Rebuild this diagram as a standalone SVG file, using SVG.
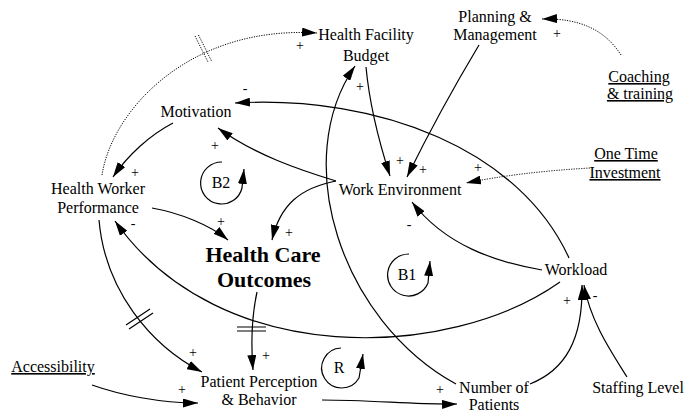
<svg xmlns="http://www.w3.org/2000/svg" width="684" height="419" viewBox="0 0 684 419" font-family="'Liberation Serif', 'Times New Roman', 'DejaVu Serif', serif">
<defs>
<style>
text{font-family:'Liberation Serif','Times New Roman','DejaVu Serif',serif}
.t{font-size:16px;fill:#000;text-anchor:middle}
.b{font-weight:bold;font-size:22px}
.u{text-decoration:underline}
.s{font-size:14px;fill:#000;text-anchor:middle}
.l{fill:none;stroke:#000;stroke-width:1.2}
.d{fill:none;stroke:#000;stroke-width:1;stroke-dasharray:1.2,1.3}
.a{marker-end:url(#ah)}
</style>
<marker id="ah" viewBox="0 0 15 9" refX="15" refY="4.5" markerWidth="15" markerHeight="9" markerUnits="userSpaceOnUse" orient="auto"><path d="M0,0 L15,4.5 L0,9 z" fill="#000"/></marker>
</defs>
<rect width="684" height="419" fill="#fff"/>
<g id="connectors">
<path class="d a" d="M102,175 C112,110 190,25 317,33"/>
<path class="d" d="M195,36 L208,62 M198.5,35 L211.5,61"/>
<path class="l a" d="M479,45 Q440,110 407,177"/>
<path class="l a" d="M366,67 C370,110 380,145 390,176"/>
<path class="d a" d="M621,55 C605,30 580,18 542,19"/>
<path class="d a" d="M590,168 Q520,172 466,183"/>
<path class="l a" d="M569,258 C520,150 380,95 235,103"/>
<path class="l a" d="M336,181 C300,170 255,155 218,128"/>
<path class="l a" d="M336,181 C300,188 280,205 272,240"/>
<path class="l a" d="M173,123 C150,135 128,155 113,177"/>
<path class="l a" d="M152,208 C180,213 210,225 228,240"/>
<path class="l a" d="M560,282 C450,360 220,370 115,221"/>
<path class="l a" d="M542,270 C495,262 445,245 412,202"/>
<path class="l a" d="M456,384 C340,320 290,160 355,66"/>
<path class="l a" d="M530,384 C565,370 583,340 582,285"/>
<path class="l a" d="M627,377 C610,350 590,320 584,285"/>
<path class="l a" d="M322,400 C370,400 420,405 457,404"/>
<path class="l a" d="M92,385 C120,395 160,403 198,403"/>
<path class="l a" d="M99,220 C105,290 150,345 202,372"/>
<path class="l" d="M126,325 L150,309 M129,329 L153,313"/>
<path class="l a" d="M257,292 C252,315 251,345 253,370"/>
<path class="l" d="M237,327 L266,327 M237,331 L266,331"/>
</g>
<g id="signs">
<text class="s" x="300" y="50">+</text>
<text class="s" x="557" y="38">+</text>
<text class="s" x="400" y="165">+</text>
<text class="s" x="423" y="174">+</text>
<text class="s" x="478" y="172">+</text>
<text class="s" x="245" y="93">-</text>
<text class="s" x="215" y="150">+</text>
<text class="s" x="135" y="177">+</text>
<text class="s" x="221" y="226">+</text>
<text class="s" x="289" y="237">+</text>
<text class="s" x="133" y="228">-</text>
<text class="s" x="409" y="229">-</text>
<text class="s" x="360" y="91">+</text>
<text class="s" x="567" y="305">+</text>
<text class="s" x="595" y="300">-</text>
<text class="s" x="440" y="394">+</text>
<text class="s" x="182" y="394">+</text>
<text class="s" x="193" y="357">+</text>
<text class="s" x="266" y="360">+</text>
</g>
<g id="loop-B2">
<path class="l a" d="M222,162 A21,21 0 1,0 242,188 L244,169"/>
<text class="t" x="221" y="188">B2</text>
</g>
<g id="loop-B1">
<path class="l a" d="M409,254 A21,21 0 1,0 428,283 L430,261"/>
<text class="t" x="407" y="280">B1</text>
</g>
<g id="loop-R">
<path class="l a" d="M341,348 A20,20 0 1,0 359,378 L363,354"/>
<text class="t" x="339" y="373">R</text>
</g>
<g id="health-facility-budget"><text class="t" x="366" y="40">Health Facility</text><text class="t" x="366" y="61">Budget</text></g>
<g id="planning-management"><text class="t" x="495" y="22">Planning &amp;</text><text class="t" x="495" y="40">Management</text></g>
<g id="coaching-training"><text class="t u" x="639" y="82">Coaching</text><text class="t u" x="640" y="99">&amp; training</text></g>
<g id="motivation"><text class="t" x="196" y="117">Motivation</text></g>
<g id="health-worker-performance"><text class="t" x="98" y="194">Health Worker</text><text class="t" x="98" y="213">Performance</text></g>
<g id="work-environment"><text class="t" x="400" y="195">Work Environment</text></g>
<g id="one-time-investment"><text class="t u" x="626" y="159">One Time</text><text class="t u" x="625" y="178">Investment</text></g>
<g id="health-care-outcomes"><text class="t b" x="263" y="262">Health Care</text><text class="t b" x="264" y="287">Outcomes</text></g>
<g id="workload"><text class="t" x="576" y="275">Workload</text></g>
<g id="accessibility"><text class="t u" x="53" y="372">Accessibility</text></g>
<g id="patient-perception"><text class="t" x="259" y="387">Patient Perception</text><text class="t" x="259" y="405">&amp; Behavior</text></g>
<g id="number-of-patients"><text class="t" x="494" y="393">Number of</text><text class="t" x="494" y="410">Patients</text></g>
<g id="staffing-level"><text class="t" x="638" y="393">Staffing Level</text></g>
</svg>
